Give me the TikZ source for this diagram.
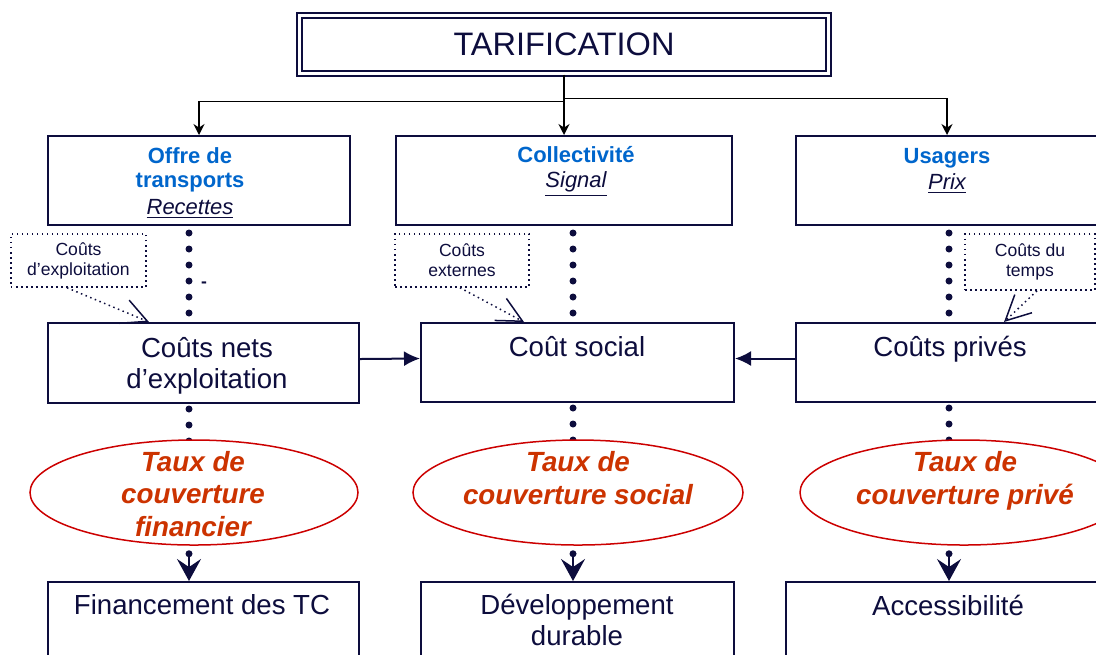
\documentclass[tikz,border=0pt]{standalone}
\usepackage{fontspec}
\setmainfont{Liberation Sans}
\usetikzlibrary{arrows.meta,positioning,shapes.geometric,backgrounds}
\definecolor{navy}{HTML}{0D0D3D}
\definecolor{headblue}{HTML}{0066CC}
\definecolor{tauxred}{HTML}{CC3300}
\definecolor{ellred}{HTML}{CC0000}

\begin{document}
\begin{tikzpicture}[x=0.2mm,y=-0.2mm,>=Latex]
  \tikzstyle{box}=[draw=navy,line width=0.4mm,fill=white,rectangle,inner sep=0pt]
  \tikzstyle{boxtext}=[text=navy,align=center,font=\fontsize{15.7}{17.6}\selectfont,inner sep=0pt]
  \tikzstyle{headtext}=[text=headblue,align=center,font=\fontsize{12.5}{13.7}\selectfont\bfseries,inner sep=0pt]
  \tikzstyle{note}=[draw=navy,dotted,line width=0.3mm,rectangle,inner sep=0pt,text=navy,align=center,font=\fontsize{10}{11.4}\selectfont]
  \tikzstyle{taux}=[draw=ellred,line width=0.3mm,fill=white,ellipse,inner sep=0pt]
  \tikzstyle{tauxtext}=[text=tauxred,align=center,font=\fontsize{15.8}{18.5}\selectfont\bfseries\itshape,inner sep=0pt]
  \tikzstyle{dotline}=[navy,line width=1.4mm,line cap=round,dash pattern=on 0pt off 3.2mm]
  \tikzstyle{callout}=[navy,dotted,line width=0.3mm,-{Straight Barb[length=5mm,width=5mm]}]
  \tikzstyle{bigtip}=[navy,line width=0.3mm,-{Stealth[length=4.4mm,width=4.8mm,inset=1.6mm]}]
  \tikzstyle{feed}=[navy,line width=0.4mm,-{Latex[length=3.2mm,width=3mm]}]
  \tikzstyle{split}=[black,line width=0.35mm,-{Stealth[length=2.2mm,width=2.2mm]}]
  \useasboundingbox (0,0) rectangle (1096,654);

  % sommet
  \node[draw=navy,line width=0.4mm,double=white,double distance=0.6mm,minimum width=105.8mm,minimum height=11.6mm,
        text=navy,font=\fontsize{18.5}{20}\selectfont] (tarif) at (564,44.5) {TARIFICATION};

  % acteurs
  \node[box,minimum width=60.4mm,minimum height=17.8mm] (offre) at (199,180.5) {};
  \node[box,minimum width=67.2mm,minimum height=17.8mm] (coll) at (564,180.5) {};
  \node[box,minimum width=60.4mm,minimum height=17.8mm] (usag) at (947,180.5) {};
  \node[headtext] (offreT) at (190,183) {Offre de\\transports\\[1.5pt]{\color{navy}\mdseries\itshape\underline{Recettes}}};
  \node[headtext] (collT) at (576,171) {Collectivit\'e\\[1pt]{\color{navy}\mdseries\itshape\underline{Signal}}};
  \node[headtext] (usagT) at (947,171) {Usagers\\[1pt]{\color{navy}\mdseries\itshape\underline{Prix}}};

  % colonnes
  \coordinate (c1) at (189,0);
  \coordinate (c2) at (573,0);
  \coordinate (c3) at (949,0);

  % couts
  \node[note,minimum width=27mm,minimum height=10.6mm] (expl) at (78.5,260.5) {Co\^uts\\d'exploitation};
  \node[note,minimum width=26.8mm,minimum height=10.6mm] (ext) at (462,260.5) {Co\^uts\\externes};
  \node[note,minimum width=26mm,minimum height=11.2mm] (temps) at (1030,262) {Co\^uts du\\temps};
  \node[text=navy,font=\fontsize{10}{11}\selectfont\bfseries,inner sep=0pt] (moins) at (204,285) {-};

  \node[box,minimum width=62.2mm,minimum height=16mm] (cnets) at (203.5,363) {};
  \node[box,minimum width=62.6mm,minimum height=15.8mm] (social) at (577.5,362.5) {};
  \node[box,minimum width=61.6mm,minimum height=15.8mm] (prives) at (950,362.5) {};
  \node[boxtext] (cnetsT) at (207,366) {Co\^uts nets\\d'exploitation};
  \node[boxtext] (socialT) at (577,347) {Co\^ut social};
  \node[boxtext] (privesT) at (950,349) {Co\^uts priv\'es};

  % taux
  \node[taux,minimum width=65.6mm,minimum height=21mm] (ef) at (194,492.5) {};
  \node[taux,minimum width=66mm,minimum height=21mm] (es) at (578,492.5) {};
  \node[taux,minimum width=65.6mm,minimum height=21mm] (ep) at (964,492.5) {};
  \node[tauxtext] (efT) at (193,494) {Taux de\\couverture\\financier};
  \node[tauxtext] (esT) at (578,478) {Taux de\\couverture social};
  \node[tauxtext] (epT) at (965,481) {Taux de\\couverture priv\'e};

  % finalites
  \node[box,minimum width=62.2mm,minimum height=23.2mm] (fin) at (203.5,640) {};
  \node[box,minimum width=62.6mm,minimum height=23.2mm] (dev) at (577.5,640) {};
  \node[box,minimum width=64.8mm,minimum height=23.2mm] (acc) at (948,640) {};
  \node[boxtext] (finT) at (202,605) {Financement des TC};
  \node[boxtext] (devT) at (577,620) {D\'eveloppement\\durable};
  \node[boxtext] (accT) at (948,605) {Accessibilit\'e};

  % liens
  \draw[split] (tarif.south) -- (coll.north);
  \draw[split] ([yshift=-5.4mm]tarif.south) -| (offre.north);
  \draw[split] ([yshift=-4.8mm]tarif.south) -| (usag.north);
  \draw[feed] ([yshift=0.8mm]cnets.east) -- ([yshift=0.8mm]social.west);
  \draw[feed] ([yshift=0.8mm]prives.west) -- ([yshift=0.8mm]social.east);
  \draw[callout] ([xshift=-2.3mm]expl.south) -- ([xshift=20.4mm]cnets.north west);
  \draw[callout] ([xshift=-0.4mm]ext.south) -- ([xshift=20.8mm]social.north west);
  \draw[callout] ([xshift=1.4mm]temps.south) -- ([xshift=41.8mm]prives.north west);

  \begin{pgfonlayer}{background}
    \draw[dotline,shorten <=1.4mm] (offre.south -| c1) -- (cnets.center -| c1);
    \draw[dotline,shorten <=1.4mm] (coll.south -| c2) -- (social.center -| c2);
    \draw[dotline,shorten <=1.4mm] (usag.south -| c3) -- (prives.center -| c3);
    \draw[dotline,shorten <=1mm] (cnets.south -| c1) -- (ef.center -| c1);
    \draw[dotline,shorten <=1mm] (social.south -| c2) -- (es.center -| c2);
    \draw[dotline,shorten <=1mm] (prives.south -| c3) -- (ep.center -| c3);
    \draw[dotline,shorten <=1.6mm,shorten >=5mm] (ef.south -| c1) -- (fin.north -| c1);
    \draw[dotline,shorten <=1.6mm,shorten >=5mm] (es.south -| c2) -- (dev.north -| c2);
    \draw[dotline,shorten <=1.6mm,shorten >=5mm] (ep.south -| c3) -- (acc.north -| c3);
  \end{pgfonlayer}
  \draw[bigtip] (fin.north -| c1) ++(0,-25) -- (fin.north -| c1);
  \draw[bigtip] (dev.north -| c2) ++(0,-25) -- (dev.north -| c2);
  \draw[bigtip] (acc.north -| c3) ++(0,-25) -- (acc.north -| c3);
\end{tikzpicture}
\end{document}
